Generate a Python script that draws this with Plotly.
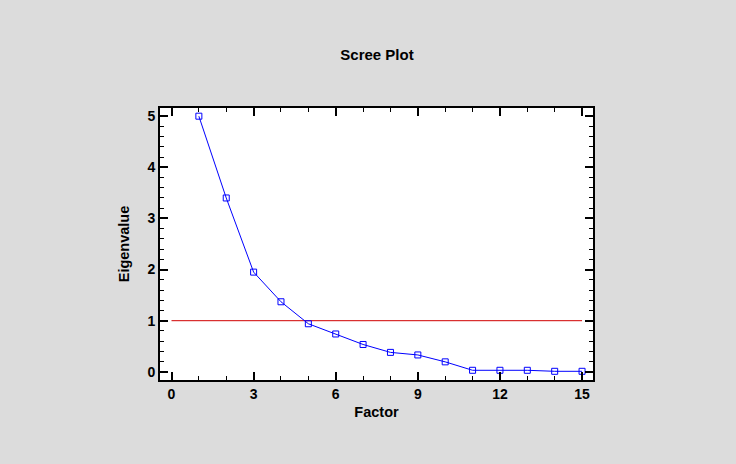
import plotly.graph_objects as go

factors = list(range(1, 16))
eigenvalues = [5.0, 3.40, 1.95, 1.37, 0.94, 0.74, 0.535, 0.38, 0.33, 0.195, 0.03, 0.03, 0.03, 0.01, 0.01]
ref_x = [0, 15]
ref_y = [1, 1]

fig = go.Figure()
fig.add_trace(go.Scatter(x=ref_x, y=ref_y, mode="lines",
                         line=dict(color="#d00000", width=1), showlegend=False))
fig.add_trace(go.Scatter(x=factors, y=eigenvalues, mode="lines+markers",
                         line=dict(color="#0000ff", width=1),
                         marker=dict(symbol="square-open", size=6, color="#0000ff", line=dict(width=1)),
                         showlegend=False))

font = dict(family="Liberation Sans, Arial", size=14, color="black")
fig.update_layout(
    width=736, height=464,
    margin=dict(l=160, r=143, t=108, b=84),
    paper_bgcolor="#dcdcdc", plot_bgcolor="white",
    font=font,
    title=dict(text="<b>Scree Plot</b>", x=377/736, xanchor="center", y=1 - 55/464, yanchor="middle",
               font=dict(size=15, family="Liberation Sans, Arial")),
    xaxis=dict(range=[-0.42, 15.4], tickvals=[0, 3, 6, 9, 12, 15],
               ticktext=["<b>%d</b>" % v for v in [0, 3, 6, 9, 12, 15]],
               ticks="inside", ticklen=8, tickwidth=2, tickcolor="black",
               minor=dict(dtick=1, tick0=0, ticks="inside", ticklen=4, tickwidth=1, tickcolor="black"),
               showline=True, linecolor="black", linewidth=2, mirror="ticks",
               showgrid=False, zeroline=False,
               title=dict(text="<b>Factor</b>", standoff=6, font=dict(size=14.5))),
    yaxis=dict(range=[-0.16, 5.16], tickvals=[0, 1, 2, 3, 4, 5],
               ticktext=["<b>%d</b>" % v for v in range(6)],
               ticks="inside", ticklen=8, tickwidth=2, tickcolor="black",
               minor=dict(dtick=0.2, tick0=0, ticks="inside", ticklen=4, tickwidth=1, tickcolor="black"),
               showline=True, linecolor="black", linewidth=2, mirror="ticks",
               showgrid=False, zeroline=False,
               title=dict(text="<b>Eigenvalue</b>", standoff=14, font=dict(size=14.5))),
)
fig.write_html("out.html")
